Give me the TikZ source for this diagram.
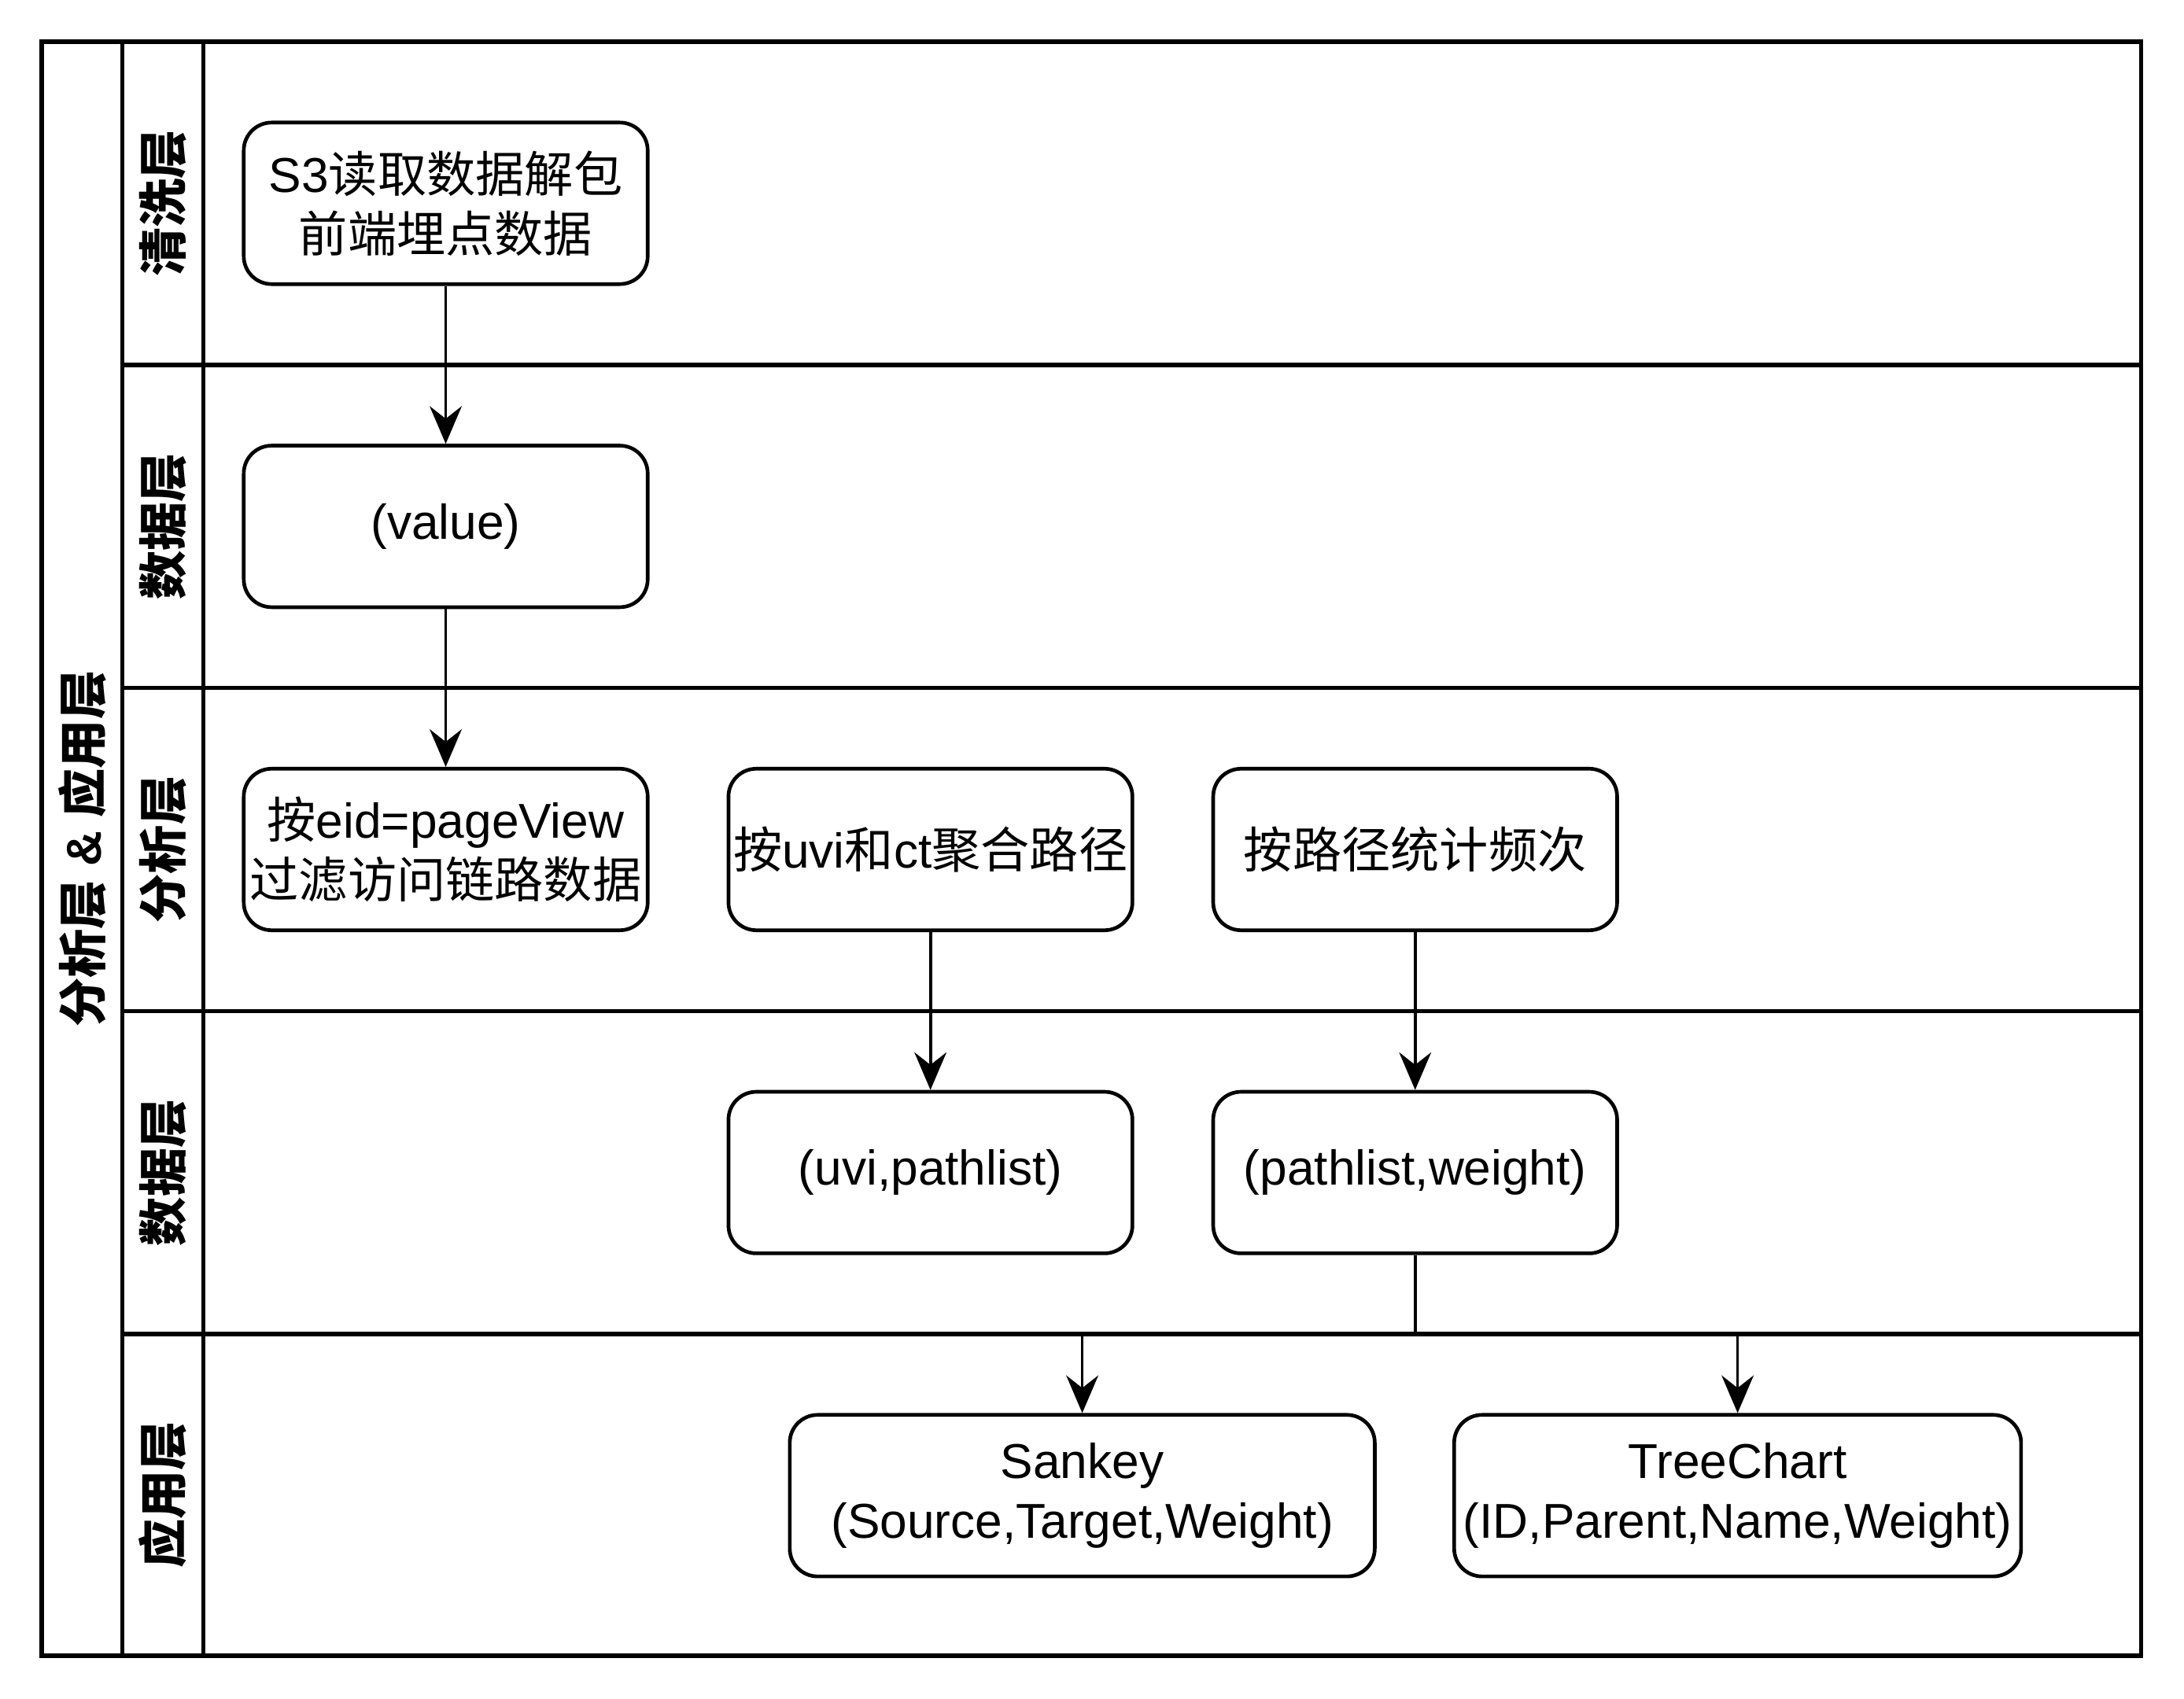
\documentclass[tikz,border=0pt]{standalone}
\usepackage{fontspec}
\setmainfont{Liberation Sans}
\newfontfamily\cjk{Noto Sans CJK SC}
\usetikzlibrary{arrows.meta,positioning}
\tikzset{stepbox/.style={draw,rounded corners=0.2cm,align=center,minimum width=2.9cm,
  minimum height=1.16cm,line width=0.75pt,inner sep=0pt,font=\fontsize{10}{12.2}\selectfont},
  lane/.style={draw,line width=0.85pt,minimum width=0.58cm,minimum height=2.32cm,
  inner sep=0pt,font=\bfseries\fontsize{10}{12}\selectfont},
  frame/.style={line width=0.85pt},
  flow/.style={-{Stealth[length=2.7mm,width=2.3mm,inset=0.9mm]},line width=0.6pt}}

\begin{document}
\begin{tikzpicture}
\useasboundingbox (0,0) rectangle (15.68,-12.20);
\draw[frame] (0.30,-0.30) rectangle (15.37,-11.89);
\node[lane,minimum height=11.59cm] (title) at (0.59,-6.095) {\rotatebox{90}{{\cjk\bfseries 分析层} \& {\cjk\bfseries 应用层}}};
\node[lane] (clean) at (1.17,-1.46) {\rotatebox{90}{\cjk\bfseries 清洗层}};
\node[lane] (dataA) at (1.17,-3.78) {\rotatebox{90}{\cjk\bfseries 数据层}};
\node[lane] (analysis) at (1.17,-6.10) {\rotatebox{90}{\cjk\bfseries 分析层}};
\node[lane] (dataB) at (1.17,-8.42) {\rotatebox{90}{\cjk\bfseries 数据层}};
\node[lane,minimum height=2.31cm] (app) at (1.17,-10.735) {\rotatebox{90}{\cjk\bfseries 应用层}};
\foreach \y in {-2.62,-4.94,-7.26,-9.58}
  \draw[frame] (1.46,\y) -- (15.37,\y);
\node[stepbox] (unpack) at (3.20,-1.46) {S3{\cjk 读取数据解包}\\{\cjk 前端埋点数据}};
\node[stepbox] (value) at (3.20,-3.78) {(value)};
\node[stepbox] (filter) at (3.20,-6.10) {{\cjk 按}eid=pageView\\{\cjk 过滤访问链路数据}};
\node[stepbox] (group) at (6.68,-6.10) {{\cjk 按}uvi{\cjk 和}ct{\cjk 聚合路径}};
\node[stepbox] (count) at (10.16,-6.10) {{\cjk 按路径统计频次}};
\node[stepbox] (uvipath) at (6.68,-8.42) {(uvi,pathlist)};
\node[stepbox] (pathweight) at (10.16,-8.42) {(pathlist,weight)};
\node[stepbox,minimum width=4.20cm] (sankey) at (7.77,-10.74) {Sankey\\(Source,Target,Weight)};
\node[stepbox,minimum width=4.07cm] (tree) at (12.475,-10.74) {TreeChart\\(ID,Parent,Name,Weight)};
\draw[flow] (unpack) -- (value);
\draw[flow] (value) -- (filter);
\draw[flow] (group) -- (uvipath);
\draw[flow] (count) -- (pathweight);
\draw[line width=0.6pt] (pathweight.south) -- (pathweight.south |- 0,-9.58) coordinate (split);
\draw[flow] (split) -| (sankey.north);
\draw[flow] (split) -| (tree.north);
\end{tikzpicture}
\end{document}
